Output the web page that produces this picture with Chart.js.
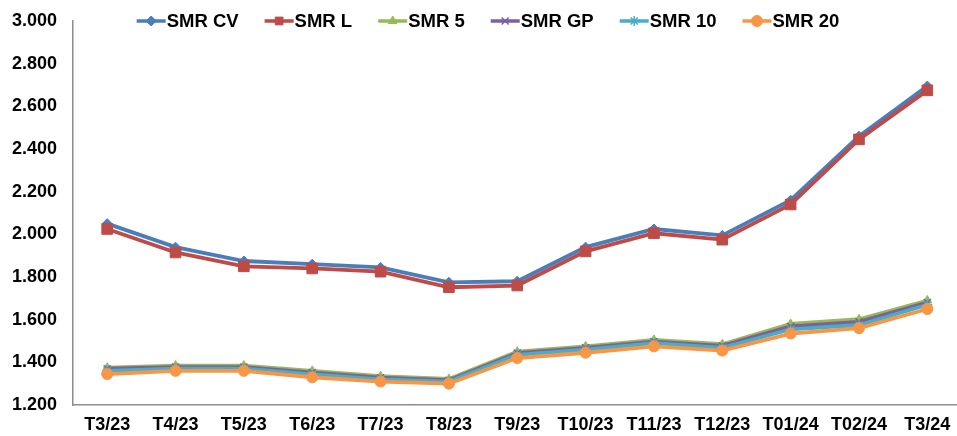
<!DOCTYPE html>
<html>
<head>
<meta charset="utf-8">
<script src="https://cdn.jsdelivr.net/npm/chart.js@4.4.1/dist/chart.umd.min.js"></script>
<style>
  html, body { margin: 0; padding: 0; background: #fff; overflow: hidden; }
  #wrap { width: 970px; height: 436px; }
</style>
</head>
<body>
<div id="wrap"><canvas id="price-chart" width="970" height="436"></canvas></div>
<script>
const months = ["T3/23", "T4/23", "T5/23", "T6/23", "T7/23", "T8/23", "T9/23",
  "T10/23", "T11/23", "T12/23", "T01/24", "T02/24", "T3/24"];

const smrCV = [2.05, 1.94, 1.875, 1.86, 1.845, 1.775, 1.78, 1.94, 2.025, 1.995, 2.16, 2.46, 2.695];
const smrL = [2.025, 1.915, 1.85, 1.84, 1.825, 1.752, 1.76, 1.92, 2.005, 1.975, 2.14, 2.445, 2.675];
const smr5 = [1.375, 1.385, 1.385, 1.36, 1.335, 1.322, 1.45, 1.475, 1.505, 1.485, 1.58, 1.602, 1.69];
const smrGP = [1.37, 1.378, 1.378, 1.352, 1.328, 1.316, 1.443, 1.468, 1.497, 1.477, 1.568, 1.59, 1.68];
const smr10 = [1.36, 1.37, 1.37, 1.343, 1.32, 1.31, 1.435, 1.46, 1.49, 1.468, 1.555, 1.575, 1.67];
const smr20 = [1.345, 1.36, 1.36, 1.33, 1.31, 1.30, 1.42, 1.445, 1.475, 1.455, 1.535, 1.56, 1.65];

const yTicks = [1.2, 1.4, 1.6, 1.8, 2.0, 2.2, 2.4, 2.6, 2.8, 3.0];

const FONT = "'Liberation Sans', Arial, sans-serif";

function series(label, data, color, style, radius, order) {
  return {
    label: label,
    data: data,
    borderColor: color,
    backgroundColor: color,
    borderWidth: 3.8,
    pointStyle: style,
    pointRadius: radius,
    pointBorderWidth: style === "crossRot" || style === "star" ? 1.5 : 1,
    pointBorderColor: color,
    pointBackgroundColor: color,
    tension: 0,
    order: order,
  };
}

// legend with line + marker, like the Excel one
const lineLegend = {
  id: "lineLegend",
  afterDraw(chart) {
    const ctx = chart.ctx;
    const sets = chart.data.datasets;
    ctx.save();
    ctx.font = "bold 18.5px " + FONT;
    const lineLen = 29, gap = 1, spacing = 26;
    let total = 0;
    sets.forEach((ds, i) => {
      total += lineLen + gap + ctx.measureText(ds.label).width;
      if (i < sets.length - 1) total += spacing;
    });
    let x = 488 - total / 2;
    const y = 21;
    sets.forEach((ds) => {
      ctx.strokeStyle = ds.borderColor;
      ctx.fillStyle = ds.borderColor;
      ctx.lineWidth = 3.5;
      ctx.beginPath();
      ctx.moveTo(x, y);
      ctx.lineTo(x + lineLen, y);
      ctx.stroke();
      ctx.lineWidth = ds.pointBorderWidth;
      Chart.helpers.drawPoint(ctx, {
        pointStyle: ds.pointStyle,
        radius: Math.min(ds.pointRadius, 5.5),
        borderWidth: ds.pointBorderWidth,
        rotation: 0,
      }, x + lineLen / 2, y);
      ctx.fillStyle = "#000";
      ctx.textBaseline = "middle";
      ctx.textAlign = "left";
      ctx.fillText(ds.label, x + lineLen + gap, y + 1);
      x += lineLen + gap + ctx.measureText(ds.label).width + spacing;
    });
    ctx.restore();
  },
};

new Chart(document.getElementById("price-chart"), {
  type: "line",
  data: {
    labels: months,
    datasets: [
      series("SMR CV", smrCV, "#4A7EBB", "rectRot", 5, 6),
      series("SMR L", smrL, "#BE4B48", "rect", 7.5, 5),
      series("SMR 5", smr5, "#98B954", "triangle", 5, 4),
      series("SMR GP", smrGP, "#7D60A0", "crossRot", 5, 3),
      series("SMR 10", smr10, "#4BACC6", "star", 5, 2),
      series("SMR 20", smr20, "#F79646", "circle", 5.5, 1),
    ],
  },
  options: {
    responsive: false,
    animation: false,
    layout: { padding: { top: 21, right: 1, left: 0, bottom: 0 } },
    plugins: {
      legend: { display: false },
      tooltip: { enabled: false },
    },
    scales: {
      x: {
        offset: true,
        grid: { display: false, drawTicks: false },
        border: { display: true, color: "#8c8c8c", width: 1.5 },
        ticks: {
          color: "#000",
          font: { family: FONT, size: 18, weight: "bold" },
          padding: 9,
          maxRotation: 0,
          autoSkip: false,
        },
        afterFit(scale) {
          scale.height = 31;
          scale.paddingLeft = 0;
          scale.paddingRight = 0;
        },
      },
      y: {
        min: 1.2,
        max: 3.0,
        grid: { display: false, drawTicks: false },
        border: { display: true, color: "#8c8c8c", width: 1.5 },
        afterBuildTicks(scale) {
          scale.ticks = yTicks.map((v) => ({ value: v }));
        },
        ticks: {
          color: "#000",
          font: { family: FONT, size: 18, weight: "bold" },
          padding: 16,
          callback: (v) => Number(v).toFixed(3),
        },
        afterFit(scale) {
          scale.width = 73;
          scale.paddingTop = 0;
          scale.paddingBottom = 0;
        },
      },
    },
  },
  plugins: [lineLegend],
});
</script>
</body>
</html>
